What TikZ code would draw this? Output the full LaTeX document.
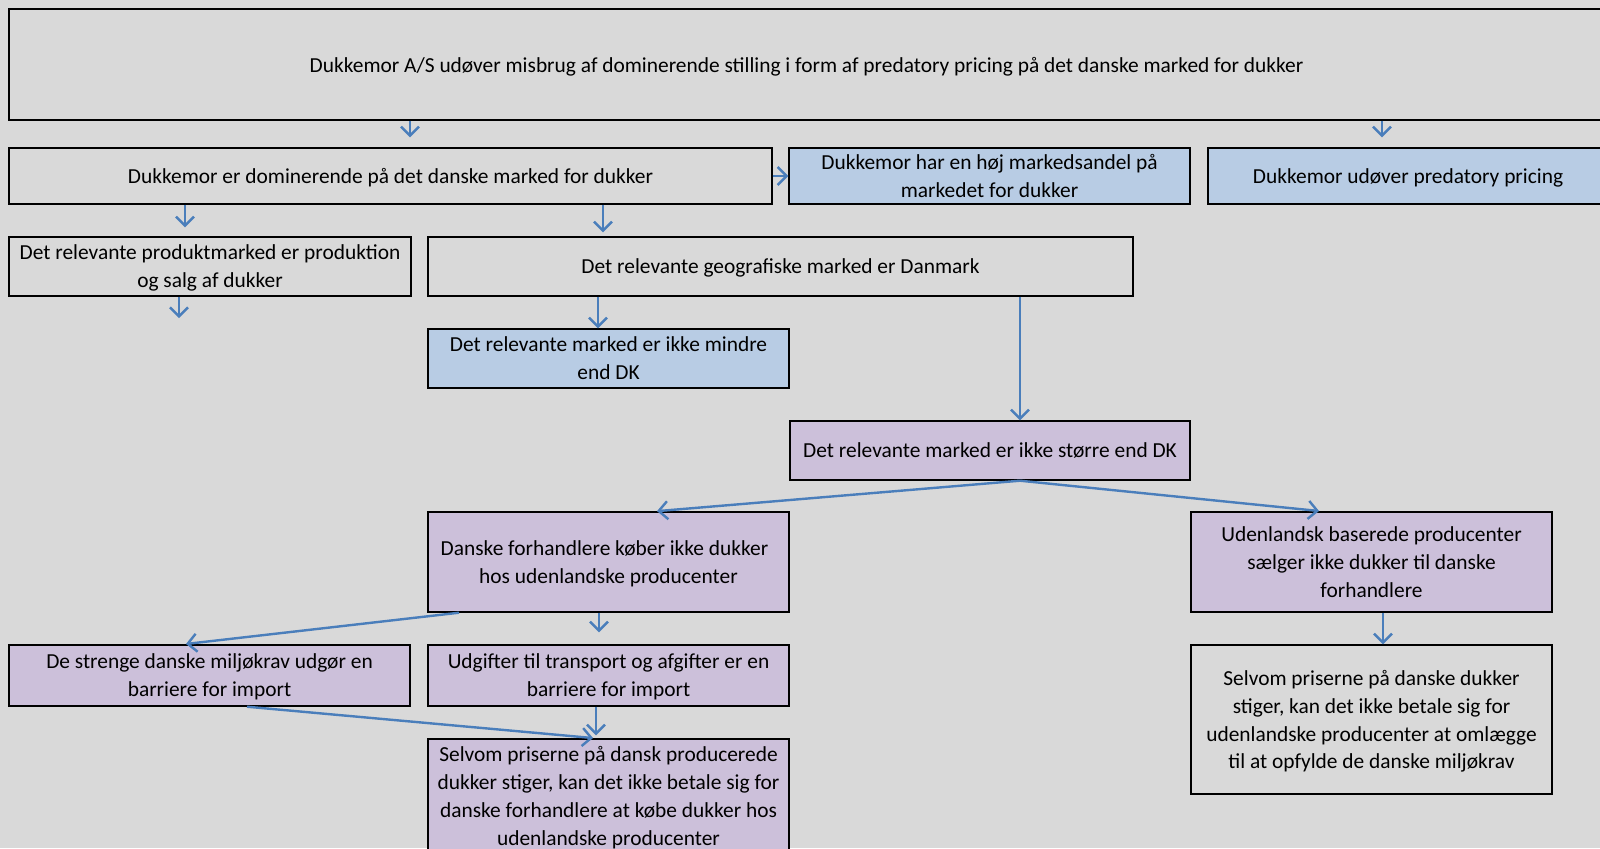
\documentclass[tikz,border=0pt]{standalone}
\usepackage{fontspec}
\setmainfont{Carlito}
\usetikzlibrary{arrows.meta,positioning}
\definecolor{sheetgrey}{HTML}{D9D9D9}
\definecolor{boxblue}{HTML}{B8CCE4}
\definecolor{boxpurple}{HTML}{CCC0DA}
\definecolor{arrowblue}{HTML}{4A7EBB}

\begin{document}
\begin{tikzpicture}
    [x=0.5pt, y=-0.5pt, font=\fontsize{10.7}{13.95}\selectfont,
    % STYLES
    % The claim style is used for the plain grey boxes
    claim/.style={rectangle, draw=black, line width=0.7pt, inner sep=0pt, text depth=0pt, align=center},
    % The fact style is used for the blue boxes
    fact/.style={claim, fill=boxblue},
    % The proof style is used for the purple boxes
    proof/.style={claim, fill=boxpurple},
    % The link style is used for the blue arrows
    link/.style={draw=arrowblue, line width=1.2pt, -{Straight Barb[length=4.5pt,width=9pt,line width=1.2pt]}}]

    \fill[sheetgrey] (0,0) rectangle (1600,848);
    \useasboundingbox (0,0) rectangle (1600,848);

    % Draw boxes
    \node [claim, minimum width=797.5pt, minimum height=55.5pt] (top) at (806.5,64.5) {Dukkemor A/S udøver misbrug af dominerende stilling i form af predatory pricing på det danske marked for dukker};
    \node [claim, minimum width=381.5pt, minimum height=28pt] (dom) at (390.5,176) {Dukkemor er dominerende på det danske marked for dukker};
    \node [fact, minimum width=200.5pt, minimum height=28pt] (share) at (989.5,176) {Dukkemor har en høj markedsandel på\\markedet for dukker};
    \node [fact, minimum width=200pt, minimum height=28pt] (pricing) at (1408,176) {Dukkemor udøver predatory pricing};
    \node [claim, minimum width=201pt, minimum height=29.5pt] (product) at (210,266.5) {Det relevante produktmarked er produktion\\og salg af dukker};
    \node [claim, minimum width=352.5pt, minimum height=29.5pt] (geo) at (780.5,266.5) {Det relevante geografiske marked er Danmark};
    \node [fact, minimum width=180.5pt, minimum height=29.5pt] (notless) at (608.5,358.5) {Det relevante marked er ikke mindre\\end DK};
    \node [proof, minimum width=200pt, minimum height=29.5pt] (notmore) at (990,450.5) {Det relevante marked er ikke større end DK};
    \node [proof, minimum width=180.5pt, minimum height=50pt] (dealers) at (608.5,562) {Danske forhandlere køber ikke dukker\hspace*{4pt}\\hos udenlandske producenter};
    \node [proof, minimum width=180.5pt, minimum height=50pt] (foreign) at (1371.5,562) {Udenlandsk baserede producenter\\sælger ikke dukker til danske\\forhandlere};
    \node [proof, minimum width=200.5pt, minimum height=30.5pt] (envreq) at (209.5,675.5) {De strenge danske miljøkrav udgør en\\barriere for import};
    \node [proof, minimum width=180.5pt, minimum height=30.5pt] (costs) at (608.5,675.5) {Udgifter til transport og afgifter er en\\barriere for import};
    \node [proof, minimum width=180.5pt, minimum height=57pt] (dkprice) at (608.5,796) {Selvom priserne på dansk producerede\\dukker stiger, kan det ikke betale sig for\\danske forhandlere at købe dukker hos\\udenlandske producenter};
    \node [claim, minimum width=180.5pt, minimum height=74.5pt] (fprice) at (1371.5,719.5) {Selvom priserne på danske dukker\\stiger, kan det ikke betale sig for\\udenlandske producenter at omlægge\\til at opfylde de danske miljøkrav};
    \coordinate (productend) at (179,318);

    % Draw arrows
    \draw[link, shorten >=5pt] (top.south -| 410,0) -- (dom.north -| 410,0);
    \draw[link, shorten >=5pt] (top.south -| 1382,0) -- (pricing.north -| 1382,0);
    \draw[link] (dom.east |- 0,176) -- (share.west |- 0,176);
    \draw[link, shorten >=4.5pt] (dom.south -| 185,0) -- (product.north -| 185,0);
    \draw[link, shorten >=2pt] (dom.south -| 603,0) -- (geo.north -| 603,0);
    \draw[link] (product.south -| productend) -- (productend);
    \draw[link] (geo.south -| 598,0) -- (notless.north -| 598,0);
    \draw[link] (geo.south -| 1020,0) -- (notmore.north -| 1020,0);
    \draw[link, shorten >=1pt] (notmore.south -| 1020,0) -- (dealers.north -| 655,0);
    \draw[link, shorten >=1.5pt] (notmore.south -| 1020,0) -- (foreign.north -| 1322,0);
    \draw[link, shorten >=6pt] (dealers.south -| 599,0) -- (costs.north -| 599,0);
    \draw[link, shorten >=1.5pt] (dealers.south -| 459,0) -- (envreq.north -| 183,0);
    \draw[link] (foreign.south -| 1383,0) -- (fprice.north -| 1383,0);
    \draw[link, shorten >=1.5pt] (costs.south -| 596,0) -- (dkprice.north -| 596,0);
    \draw[link, shorten >=1.5pt] (envreq.south -| 247,0) -- (dkprice.north -| 596,0);
\end{tikzpicture}
\end{document}
